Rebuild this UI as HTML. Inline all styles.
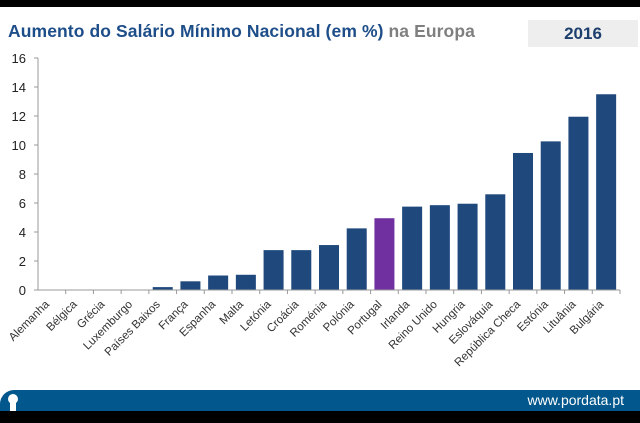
<!DOCTYPE html>
<html><head><meta charset="utf-8"><style>
body{margin:0;width:640px;height:423px;background:#fff;position:relative;overflow:hidden;font-family:"Liberation Sans",Arial,sans-serif}
#topbar{position:absolute;left:0;top:0;width:640px;height:7px;background:#000}
#title{position:absolute;left:8px;top:21px;font-size:17.5px;font-weight:bold;color:#1d4e89;letter-spacing:0.1px}
#title span{color:#7f7f7f}
#year{position:absolute;left:528px;top:20px;width:110px;height:27px;background:#eeeeee;color:#1d3f6e;font-weight:bold;font-size:17px;text-align:center;line-height:27px}
#footer{position:absolute;left:0;top:390px;width:640px;height:21px;background:#02578c;border-top-left-radius:14px}
#footer .url{position:absolute;right:16px;top:2px;color:#fff;font-size:14px}
#botbar{position:absolute;left:0;top:411px;width:640px;height:12px;background:#000}
</style></head><body>
<div id="topbar"></div>
<div id="title">Aumento do Salário Mínimo Nacional (em %) <span>na Europa</span></div>
<div id="year">2016</div>
<svg id="chart" width="640" height="423" style="position:absolute;left:0;top:0"></svg>
<div id="footer">
<svg width="20" height="21" style="position:absolute;left:2px;top:0"><circle cx="11" cy="9" r="5" fill="#fff"/><rect x="8" y="10" width="6" height="11" fill="#fff"/></svg>
<span class="url">www.pordata.pt</span></div>
<div id="botbar"></div>
<script>
const categories=["Alemanha","Bélgica","Grécia","Luxemburgo","Países Baixos","França","Espanha","Malta","Letónia","Croácia","Roménia","Polónia","Portugal","Irlanda","Reino Unido","Hungria","Eslováquia","República Checa","Estónia","Lituânia","Bulgária"];
const values=[0,0,0,0,0.2,0.6,1.0,1.05,2.75,2.75,3.1,4.25,4.95,5.75,5.85,5.95,6.6,9.45,10.25,11.95,13.5];
const yTicks=[0,2,4,6,8,10,12,14,16];
const highlight="Portugal";
const NS="http://www.w3.org/2000/svg";
const svg=document.getElementById('chart');
const x0=38,x1=620,yb=290,yt=58,ymax=16;
const bw=(x1-x0)/categories.length;
const y=v=>yb-(yb-yt)*v/ymax;
function mk(t,a){const e=document.createElementNS(NS,t);for(const k in a)e.setAttribute(k,a[k]);svg.appendChild(e);return e;}
let ax=mk('line',{x1:x0,y1:yt,x2:x0,y2:yb,stroke:'#999','stroke-width':1});


yTicks.forEach(t=>{
 const tk=mk('line',{x1:x0-4,y1:y(t),x2:x0,y2:y(t),stroke:'#999'});
 
 
 const tx=mk('text',{x:x0-12,y:y(t)+5,'text-anchor':'end','font-size':13,fill:'#222','font-family':'Liberation Sans, sans-serif'});
 tx.textContent=t;
 
 
});
categories.forEach((c,i)=>{
 const cx=x0+bw*(i+0.5);
 const v=values[i];
 const r=mk('rect',{x:cx-10,y:y(v),width:20,height:yb-y(v),fill:c===highlight?'#7030a0':'#1f497d'});
 
 
 const tk=mk('line',{x1:x0+bw*(i+1),y1:yb,x2:x0+bw*(i+1),y2:yb+4,stroke:'#999'});
 
 
 const tx=mk('text',{x:0,y:0,'text-anchor':'end','font-size':11.5,fill:'#333','font-family':'Liberation Sans, sans-serif',transform:`translate(${cx-2},${yb+15}) rotate(-45)`});
 tx.textContent=c;
 
 
});
const xa=mk('line',{x1:x0,y1:yb,x2:x1,y2:yb,stroke:'#999'});


</script>
</body></html>
